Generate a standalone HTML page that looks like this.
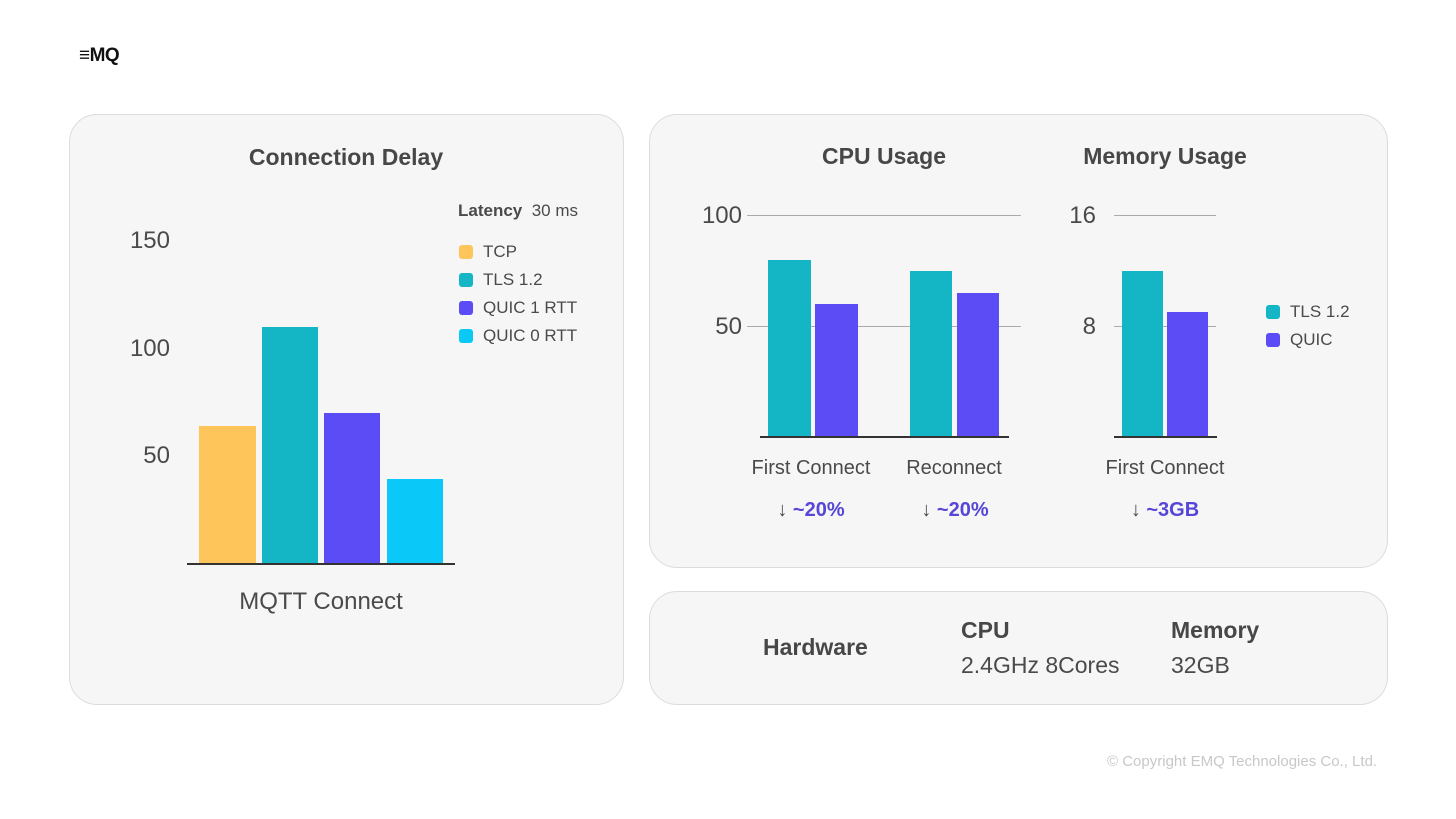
<!DOCTYPE html>
<html><head><meta charset="utf-8"><style>
body{margin:0;width:1456px;height:819px;background:#fff;position:relative;overflow:hidden;font-family:"Liberation Sans",sans-serif;color:#4a4a4a}
.p{position:absolute;background:#f6f6f6;border:1px solid #dcdcdc;border-radius:28px;box-sizing:border-box}
.t{position:absolute;white-space:nowrap;line-height:1}
.b{position:absolute}
.l{position:absolute;height:1px;background:#aaa}
.ax{position:absolute;height:2px;background:#333}
.sw{position:absolute;width:14px;height:14px;border-radius:3px}
.h{font-weight:bold;color:#474747}
.c{transform:translateX(-50%)}
.r{transform:translateX(-100%)}
.pct{color:#5646d8;font-weight:bold}
</style></head><body>
<div class="t" style="left:79px;top:46px;font-size:19px;font-weight:bold;color:#111;letter-spacing:-0.5px">≡MQ</div>

<div class="p" style="left:69px;top:114px;width:555px;height:591px"></div>
<div class="p" style="left:649px;top:114px;width:739px;height:454px"></div>
<div class="p" style="left:649px;top:591px;width:739px;height:114px"></div>

<!-- left -->
<div class="t h c" style="left:346px;top:146px;font-size:23px">Connection Delay</div>
<div class="t" style="left:458px;top:202px;font-size:17px"><b>Latency</b>&nbsp; 30 ms</div>
<div class="sw" style="left:459px;top:245px;background:#fdc55a"></div><div class="t" style="left:483px;top:243px;font-size:17px">TCP</div>
<div class="sw" style="left:459px;top:273px;background:#14b6c6"></div><div class="t" style="left:483px;top:271px;font-size:17px">TLS 1.2</div>
<div class="sw" style="left:459px;top:301px;background:#5b4cf5"></div><div class="t" style="left:483px;top:299px;font-size:17px">QUIC 1 RTT</div>
<div class="sw" style="left:459px;top:329px;background:#0ac8f8"></div><div class="t" style="left:483px;top:327px;font-size:17px">QUIC 0 RTT</div>
<div class="t r" style="left:170px;top:229px;font-size:24px">150</div>
<div class="t r" style="left:170px;top:337px;font-size:24px">100</div>
<div class="t r" style="left:170px;top:444px;font-size:24px">50</div>
<div class="b" style="left:199px;top:426px;width:57px;height:138px;background:#fdc55a"></div>
<div class="b" style="left:262px;top:327px;width:56px;height:237px;background:#14b6c6"></div>
<div class="b" style="left:324px;top:413px;width:56px;height:151px;background:#5b4cf5"></div>
<div class="b" style="left:387px;top:479px;width:56px;height:85px;background:#0ac8f8"></div>
<div class="ax" style="left:187px;top:563px;width:268px"></div>
<div class="t c" style="left:321px;top:590px;font-size:24px">MQTT Connect</div>

<!-- CPU -->
<div class="t h c" style="left:884px;top:145px;font-size:23px">CPU Usage</div>
<div class="t h c" style="left:1165px;top:145px;font-size:23px">Memory Usage</div>
<div class="l" style="left:747px;top:215px;width:274px"></div>
<div class="l" style="left:747px;top:326px;width:274px"></div>
<div class="t r" style="left:742px;top:204px;font-size:24px">100</div>
<div class="t r" style="left:742px;top:315px;font-size:24px">50</div>
<div class="b" style="left:768px;top:260px;width:43px;height:177px;background:#14b6c6"></div>
<div class="b" style="left:815px;top:304px;width:43px;height:133px;background:#5b4cf5"></div>
<div class="b" style="left:910px;top:271px;width:42px;height:166px;background:#14b6c6"></div>
<div class="b" style="left:957px;top:293px;width:42px;height:144px;background:#5b4cf5"></div>
<div class="ax" style="left:760px;top:436px;width:249px"></div>
<div class="t c" style="left:811px;top:458px;font-size:20px">First Connect</div>
<div class="t c" style="left:954px;top:458px;font-size:20px">Reconnect</div>
<div class="t c" style="left:811px;top:500px;font-size:20px">↓ <span class="pct">~20%</span></div>
<div class="t c" style="left:955px;top:500px;font-size:20px">↓ <span class="pct">~20%</span></div>

<!-- Memory -->
<div class="l" style="left:1114px;top:215px;width:102px"></div>
<div class="l" style="left:1114px;top:326px;width:102px"></div>
<div class="t r" style="left:1096px;top:204px;font-size:24px">16</div>
<div class="t r" style="left:1096px;top:315px;font-size:24px">8</div>
<div class="b" style="left:1122px;top:271px;width:41px;height:166px;background:#14b6c6"></div>
<div class="b" style="left:1167px;top:312px;width:41px;height:125px;background:#5b4cf5"></div>
<div class="ax" style="left:1114px;top:436px;width:103px"></div>
<div class="t c" style="left:1165px;top:458px;font-size:20px">First Connect</div>
<div class="t c" style="left:1165px;top:500px;font-size:20px">↓ <span class="pct">~3GB</span></div>
<div class="sw" style="left:1266px;top:305px;background:#14b6c6"></div><div class="t" style="left:1290px;top:303px;font-size:17px">TLS 1.2</div>
<div class="sw" style="left:1266px;top:333px;background:#5b4cf5"></div><div class="t" style="left:1290px;top:331px;font-size:17px">QUIC</div>

<!-- hardware -->
<div class="t h" style="left:763px;top:636px;font-size:23px">Hardware</div>
<div class="t h" style="left:961px;top:619px;font-size:23px">CPU</div>
<div class="t" style="left:961px;top:654px;font-size:23px">2.4GHz 8Cores</div>
<div class="t h" style="left:1171px;top:619px;font-size:23px">Memory</div>
<div class="t" style="left:1171px;top:654px;font-size:23px">32GB</div>

<div class="t" style="left:1107px;top:754px;font-size:15px;color:#c8c8c8">© Copyright EMQ Technologies Co., Ltd.</div>
</body></html>
